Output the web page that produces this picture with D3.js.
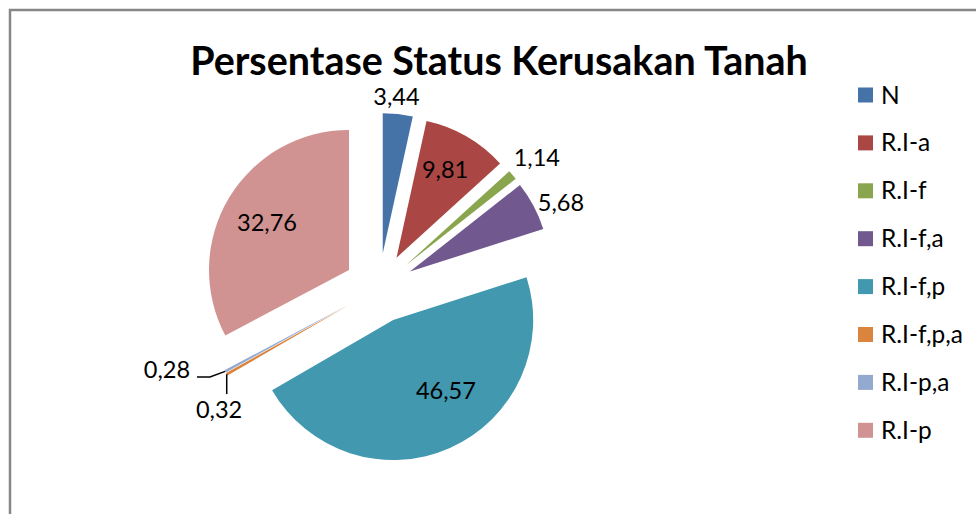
<!DOCTYPE html>
<html>
<head>
<meta charset="utf-8">
<script src="https://cdn.jsdelivr.net/npm/d3@7"></script>
<style>
  body { margin: 0; background: #fff; }
  svg { display: block; font-family: Lato, "Open Sans", sans-serif; }
</style>
</head>
<body>
<svg id="chart" width="976" height="514"></svg>
<script>
// data
const categories = ['N', 'R.I-a', 'R.I-f', 'R.I-f,a', 'R.I-f,p', 'R.I-f,p,a', 'R.I-p,a', 'R.I-p'];
const values = [3.44, 9.81, 1.14, 5.68, 46.57, 0.32, 0.28, 32.76];
const colors = ['#4572A7', '#AA4643', '#89A54E', '#71588F', '#4198AF', '#DB843D', '#93A9CF', '#D19392'];
const title = 'Persentase Status Kerusakan Tanah';

// label placement: [angle from slice tip (deg), distance as share of radius]
const labelPlace = [[5, 1.123], [29, 0.716], [50.7, 1.21], [65.6, 1.185], [143.4, 0.632], [231, 1.19], [250.2, 1.376], [299.8, 0.675]];

const svg = d3.select('#chart');
const cx = 379, cy = 288, radius = 140, explode = 35;

// chart frame (only top and left edges are visible)
svg.append('rect')
  .attr('x', 10).attr('y', 10)
  .attr('width', 1200).attr('height', 900)
  .attr('fill', 'none').attr('stroke', '#878787').attr('stroke-width', 2.5);

function fitSize(txt, target, weight) {
  const t = svg.append('text').attr('font-size', 100).attr('font-weight', weight).text(txt);
  const w = t.node().getComputedTextLength();
  t.remove();
  return 100 * target / w;
}

svg.append('text')
  .attr('x', 499).attr('y', 75)
  .attr('text-anchor', 'middle')
  .attr('font-weight', 'bold')
  .attr('font-size', fitSize(title, 618, 'bold'))
  .attr('fill', '#000')
  .text(title);

const pie = d3.pie().sort(null).value(d => d)(values);
const arc = d3.arc().innerRadius(0).outerRadius(radius);
const dir = a => [Math.sin(a), -Math.cos(a)];
const fmt = v => v.toFixed(2).replace('.', ',');

const labelSize = fitSize('46,57', 60, 'normal');

const g = svg.append('g').attr('transform', `translate(${cx},${cy})`);
const slices = g.selectAll('.slice')
  .data(pie)
  .join('g')
  .attr('class', 'slice')
  .attr('transform', d => {
    const m = dir((d.startAngle + d.endAngle) / 2);
    return `translate(${m[0] * explode},${m[1] * explode})`;
  });

slices.append('path')
  .attr('d', arc)
  .attr('fill', (d, i) => colors[i]);

slices.each(function(d, i) {
  const sel = d3.select(this);
  const p = labelPlace[i];
  const lv = dir(p[0] * Math.PI / 180);
  const lx = lv[0] * radius * p[1], ly = lv[1] * radius * p[1];
  sel.append('text')
    .attr('x', lx).attr('y', ly)
    .attr('dy', '0.35em')
    .attr('text-anchor', 'middle')
    .attr('font-size', labelSize)
    .attr('fill', '#000')
    .text(fmt(values[i]));
  // leader lines for the two tiny slices
  const mid = (d.startAngle + d.endAngle) / 2;
  const tip = dir(mid).map(v => v * radius);
  if (categories[i] === 'R.I-f,p,a') {
    sel.append('path')
      .attr('d', d3.line()([tip, [tip[0], ly - 16]]))
      .attr('fill', 'none').attr('stroke', '#000').attr('stroke-width', 1.5);
  } else if (categories[i] === 'R.I-p,a') {
    sel.append('path')
      .attr('d', d3.line()([tip, [lx + 43, ly + 7], [lx + 30, ly + 7]]))
      .attr('fill', 'none').attr('stroke', '#000').attr('stroke-width', 1.5);
  }
});

// legend
const legendSize = fitSize('R.I-f,p,a', 82, 'normal');
const legend = svg.append('g').selectAll('g')
  .data(categories)
  .join('g')
  .attr('transform', (d, i) => `translate(858,${95 + i * 47.9})`);
legend.append('rect')
  .attr('x', 0).attr('y', -7.5)
  .attr('width', 15).attr('height', 15)
  .attr('fill', (d, i) => colors[i]);
legend.append('text')
  .attr('x', 23).attr('y', 0)
  .attr('dy', '0.35em')
  .attr('font-size', legendSize)
  .attr('fill', '#000')
  .text(d => d);
</script>
</body>
</html>
